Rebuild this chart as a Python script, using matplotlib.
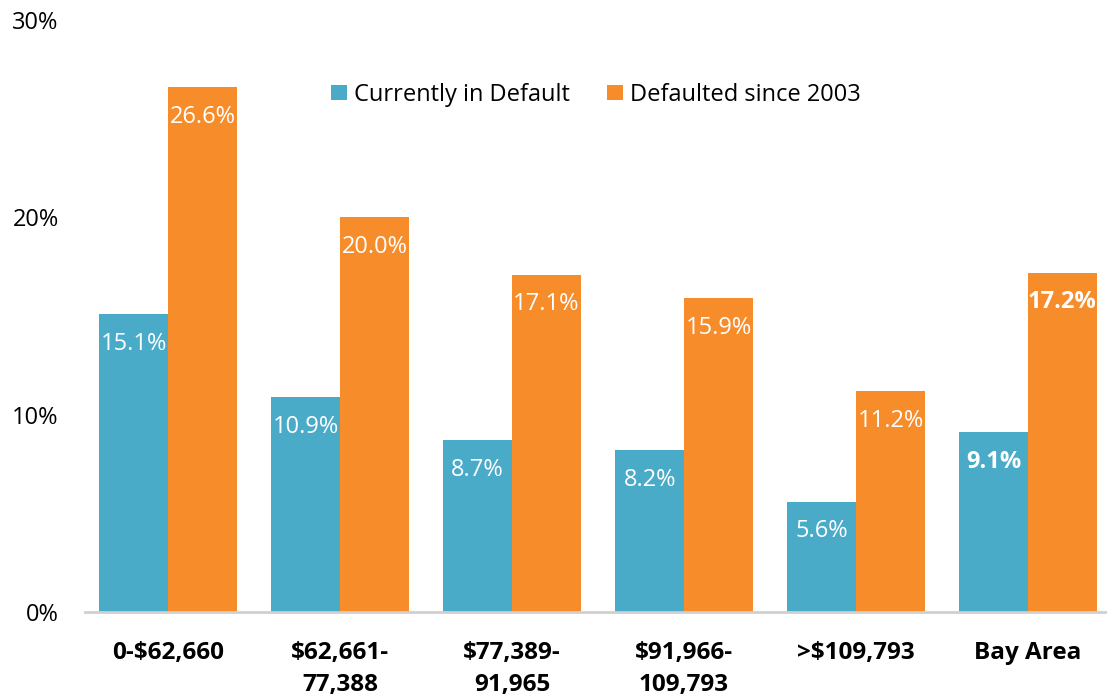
import matplotlib.pyplot as plt
import numpy as np

# 数据
categories = ['0-$62,660', '$62,661-\n77,388', '$77,389-\n91,965',
              '$91,966-\n109,793', '>$109,793', 'Bay Area']
current = [15.1, 10.9, 8.7, 8.2, 5.6, 9.1]
since2003 = [26.6, 20.0, 17.1, 15.9, 11.2, 17.2]
yticks = [0, 10, 20, 30]

blue = '#4aabc9'
orange = '#f78d2a'
plt.rcParams['font.family'] = ['Open Sans', 'DejaVu Sans']

fig = plt.figure(figsize=(11.07, 6.96), dpi=100)
ax = fig.add_axes([0.0768, 0.1207, 0.9232, 0.8503])

x = np.arange(len(categories))
w = 0.4
b1 = ax.bar(x - w/2, current, w, color=blue, label='Currently in Default')
b2 = ax.bar(x + w/2, since2003, w, color=orange, label='Defaulted since 2003')

# 柱内标签
for bars, vals in ((b1, current), (b2, since2003)):
    for i, (r, v) in enumerate(zip(bars, vals)):
        ax.text(r.get_x() + r.get_width()/2, v - 1.5, f'{v:.1f}%',
                ha='center', va='center', color='white', fontsize=17,
                fontweight='bold' if i == len(vals) - 1 else 'normal')

ax.set_xlim(-0.483, 5.459)
ax.set_ylim(0, 30)
ax.set_yticks(yticks)
ax.set_yticklabels([f'{t}%' for t in yticks], fontsize=17)
ax.set_xticks(x)
ax.set_xticklabels(categories, fontsize=17.5, fontweight='bold', linespacing=1.45, va='top')
ax.tick_params(length=0)
ax.tick_params(axis='x', pad=21)
ax.tick_params(axis='y', pad=19)

for s in ['top', 'right', 'left']:
    ax.spines[s].set_visible(False)
ax.spines['bottom'].set_color('#d0d0d0')
ax.spines['bottom'].set_linewidth(2)

ax.legend(loc='upper center', bbox_to_anchor=(0.5, 0.93), ncol=2, frameon=False,
          fontsize=17, handlelength=0.65, handleheight=0.65, columnspacing=1.6,
          handletextpad=0.3)

fig.savefig('out.png', dpi=100)
